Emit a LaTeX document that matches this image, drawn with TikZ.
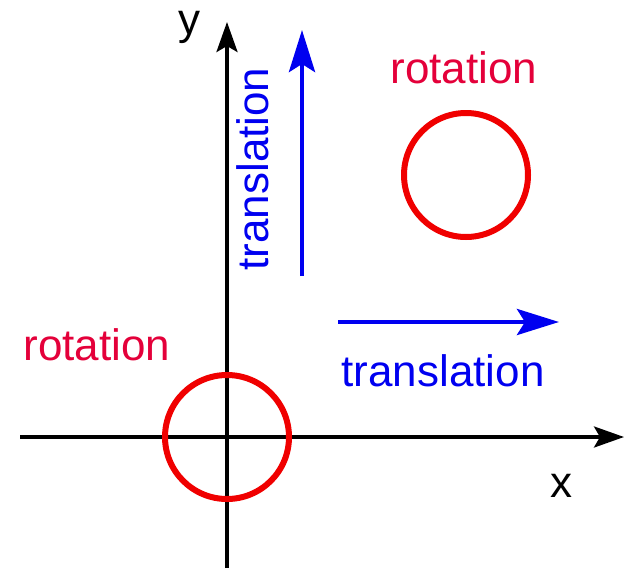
\documentclass[tikz,border=0pt]{standalone}
\usepackage{fontspec}
\setmainfont{Liberation Sans}
\usetikzlibrary{arrows.meta}
\definecolor{rotred}{RGB}{228,0,58}
\definecolor{circred}{RGB}{240,0,0}
\definecolor{trblue}{RGB}{0,0,240}
\begin{document}
\begin{tikzpicture}[x=1pt,y=-1pt,
  lbl/.style={inner sep=0pt,font=\fontsize{44}{50}\selectfont},
  axis/.style={line width=3.5pt,black,-{Stealth[length=30pt,width=21pt,inset=6pt]}},
  trarrow/.style={line width=4.5pt,trblue,-{Stealth[length=42pt,width=26pt,inset=8pt]}},
  ring/.style={circle,draw=circred,line width=6pt,minimum size=124pt,inner sep=0pt}]
\useasboundingbox (0,0) rectangle (629,568);
\fill[white] (0,0) rectangle (629,568);
% axes
\coordinate (xs) at (20,437);
\coordinate (xe) at (624,437);
\coordinate (ys) at (227,568);
\coordinate (ye) at (227,22);
\draw[axis] (xs) -- (xe);
\draw[axis] (ys) -- (ye);
\node[lbl,anchor=base] (ylab) at (189,34) {y};
\node[lbl,anchor=base] (xlab) at (561,497) {x};
% circles
\node[ring] (c1) at (227,437) {};
\node[ring] (c2) at (466,175) {};
% translation arrows
\coordinate (vs) at (302,276);
\coordinate (ve) at (302,30);
\coordinate (hs) at (338,322);
\coordinate (he) at (559,322);
\draw[trarrow] (vs) -- (ve);
\draw[trarrow] (hs) -- (he);
% labels
\node[lbl,text=rotred,anchor=base] (r1) at (464,83) {rotation};
\node[lbl,text=rotred,anchor=base] (r2) at (97,360) {rotation};
\node[lbl,text=trblue,anchor=base] (t1) at (443,386) {translation};
\node[lbl,text=trblue,rotate=90,anchor=base] (t2) at (268,169) {translation};
\end{tikzpicture}
\end{document}
